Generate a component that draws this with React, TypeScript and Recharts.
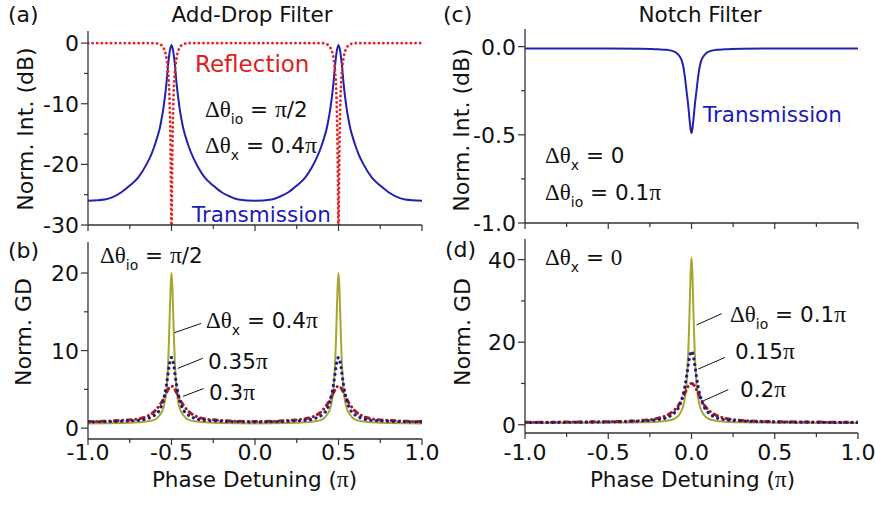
import React from 'react';
import { LineChart, Line, XAxis, YAxis, ReferenceLine } from 'recharts';

const FONT = '"DejaVu Sans", "Liberation Sans", Arial, sans-serif';
const SERIF = '"Liberation Serif", "DejaVu Serif", "Times New Roman", serif';
const AXIS = '#333333';
const INK = '#111111';

// ---------- shared x axis ----------
const xTicks = [-1, -0.75, -0.5, -0.25, 0, 0.25, 0.5, 0.75, 1];
const xMajor = [-1, -0.5, 0, 0.5, 1];
const xTickLabels = ['-1.0', '-0.5', '0.0', '0.5', '1.0'];

// ---------- panel (a) ----------
const aYTicks = [0, -5, -10, -15, -20, -25, -30];
const aYMajor = [0, -10, -20, -30];
const aYLabels = ['0', '-10', '-20', '-30'];
const aTransX = [-1, -0.9, -0.8, -0.75, -0.7, -0.65, -0.62, -0.6, -0.585, -0.57, -0.56, -0.55, -0.54, -0.53, -0.52, -0.51, -0.5, -0.49, -0.48, -0.47, -0.46, -0.45, -0.44, -0.43, -0.415, -0.4, -0.37, -0.34, -0.3, -0.25, -0.2, -0.15, -0.1, 0, 0.1, 0.15, 0.2, 0.25, 0.3, 0.34, 0.37, 0.4, 0.415, 0.43, 0.44, 0.45, 0.46, 0.47, 0.48, 0.49, 0.5, 0.51, 0.52, 0.53, 0.54, 0.55, 0.56, 0.57, 0.585, 0.6, 0.62, 0.65, 0.7, 0.75, 0.8, 0.9, 1];
const aTransY = [-26.0, -25.8, -24.6, -23.5, -22.2, -20.0, -18.3, -16.8, -15.5, -14.0, -12.6, -11.0, -9.0, -6.5, -3.5, -1.3, -0.3, -1.3, -3.5, -6.5, -9.0, -11.0, -12.6, -14.0, -15.5, -16.8, -18.9, -20.5, -22.2, -23.5, -24.6, -25.3, -25.8, -26.0, -25.8, -25.3, -24.6, -23.5, -22.2, -20.5, -18.9, -16.8, -15.5, -14.0, -12.6, -11.0, -9.0, -6.5, -3.5, -1.3, -0.3, -1.3, -3.5, -6.5, -9.0, -11.0, -12.6, -14.0, -15.5, -16.8, -18.3, -20.0, -22.2, -23.5, -24.6, -25.8, -26.0];
const aReflX = [-1, -0.7, -0.6, -0.58, -0.56, -0.55, -0.54, -0.53, -0.52, -0.515, -0.51, -0.506, -0.502, -0.5, -0.498, -0.494, -0.49, -0.485, -0.48, -0.47, -0.46, -0.45, -0.44, -0.42, -0.4, -0.3, 0, 0.3, 0.4, 0.42, 0.44, 0.45, 0.46, 0.47, 0.48, 0.485, 0.49, 0.494, 0.498, 0.5, 0.502, 0.506, 0.51, 0.515, 0.52, 0.53, 0.54, 0.55, 0.56, 0.58, 0.6, 0.7, 1];
const aReflY = [0, 0, 0, -0.1, -0.35, -0.7, -1.3, -2.5, -4.8, -7, -11, -17, -28, -40, -28, -17, -11, -7, -4.8, -2.5, -1.3, -0.7, -0.35, -0.1, 0, 0, 0, 0, 0, -0.1, -0.35, -0.7, -1.3, -2.5, -4.8, -7, -11, -17, -28, -40, -28, -17, -11, -7, -4.8, -2.5, -1.3, -0.7, -0.35, -0.1, 0, 0, 0];

// ---------- panel (b) ----------
const bYTicks = [0, 5, 10, 15, 20];
const bYMajor = [0, 10, 20];
const bYLabels = ['0', '10', '20'];
const bX = [-1, -0.8, -0.7, -0.65, -0.6, -0.57, -0.55, -0.54, -0.53, -0.52, -0.515, -0.51, -0.505, -0.5, -0.495, -0.49, -0.485, -0.48, -0.47, -0.46, -0.45, -0.43, -0.4, -0.35, -0.3, -0.2, 0, 0.2, 0.3, 0.35, 0.4, 0.43, 0.45, 0.46, 0.47, 0.48, 0.485, 0.49, 0.495, 0.5, 0.505, 0.51, 0.515, 0.52, 0.53, 0.54, 0.55, 0.57, 0.6, 0.65, 0.7, 0.8, 1];
const bOlive = [0.6, 0.65, 0.75, 0.85, 1.1, 1.7, 2.5, 3.4, 5.0, 8.5, 11.4, 15.0, 18.4, 20.0, 18.4, 15.0, 11.4, 8.5, 5.0, 3.4, 2.5, 1.7, 1.1, 0.85, 0.75, 0.65, 0.6, 0.65, 0.75, 0.85, 1.1, 1.7, 2.5, 3.4, 5.0, 8.5, 11.4, 15.0, 18.4, 20.0, 18.4, 15.0, 11.4, 8.5, 5.0, 3.4, 2.5, 1.7, 1.1, 0.85, 0.75, 0.65, 0.6];
const bBlue = [0.8, 0.9, 1.0, 1.2, 1.7, 2.4, 3.5, 4.4, 5.6, 7.1, 7.9, 8.5, 9.0, 9.1, 9.0, 8.5, 7.9, 7.1, 5.6, 4.4, 3.5, 2.4, 1.7, 1.2, 1.0, 0.9, 0.8, 0.9, 1.0, 1.2, 1.7, 2.4, 3.5, 4.4, 5.6, 7.1, 7.9, 8.5, 9.0, 9.1, 9.0, 8.5, 7.9, 7.1, 5.6, 4.4, 3.5, 2.4, 1.7, 1.2, 1.0, 0.9, 0.8];
const bRed = [0.85, 1.0, 1.2, 1.5, 2.2, 3.0, 3.7, 4.2, 4.6, 5.0, 5.2, 5.3, 5.4, 5.4, 5.4, 5.3, 5.2, 5.0, 4.6, 4.2, 3.7, 3.0, 2.2, 1.5, 1.2, 1.0, 0.85, 1.0, 1.2, 1.5, 2.2, 3.0, 3.7, 4.2, 4.6, 5.0, 5.2, 5.3, 5.4, 5.4, 5.4, 5.3, 5.2, 5.0, 4.6, 4.2, 3.7, 3.0, 2.2, 1.5, 1.2, 1.0, 0.85];
const bPointers = [
  [{ x: -0.483, y: 12.3 }, { x: -0.323, y: 13.5 }],
  [{ x: -0.463, y: 7.7 }, { x: -0.313, y: 9.0 }],
  [{ x: -0.431, y: 4.1 }, { x: -0.308, y: 5.1 }],
];

// ---------- panel (c) ----------
const cYTicks = [0, -0.25, -0.5, -0.75, -1];
const cYMajor = [0, -0.5, -1];
const cYLabels = ['0.0', '-0.5', '-1.0'];
const cdX = [-1, -0.5, -0.3, -0.2, -0.15, -0.1, -0.08, -0.06, -0.05, -0.04, -0.03, -0.02, -0.015, -0.01, -0.005, 0, 0.005, 0.01, 0.015, 0.02, 0.03, 0.04, 0.05, 0.06, 0.08, 0.1, 0.15, 0.2, 0.3, 0.5, 1];
const cTrans = [-0.01, -0.01, -0.012, -0.015, -0.018, -0.03, -0.045, -0.075, -0.11, -0.17, -0.25, -0.33, -0.38, -0.43, -0.47, -0.49, -0.47, -0.43, -0.38, -0.33, -0.25, -0.17, -0.11, -0.075, -0.045, -0.03, -0.018, -0.015, -0.012, -0.01, -0.01];

// ---------- panel (d) ----------
const dYTicks = [0, 10, 20, 30, 40];
const dYMajor = [0, 20, 40];
const dYLabels = ['0', '20', '40'];
const dOlive = [0.45, 0.5, 0.6, 0.75, 0.95, 1.5, 2.1, 3.4, 4.5, 6.4, 10.0, 17.0, 22.7, 30.0, 37.2, 40.5, 37.2, 30.0, 22.7, 17.0, 10.0, 6.4, 4.5, 3.4, 2.1, 1.5, 0.95, 0.75, 0.6, 0.5, 0.45];
const dBlue = [0.55, 0.7, 0.9, 1.25, 1.7, 3.0, 4.0, 5.9, 7.3, 9.2, 11.6, 14.4, 15.7, 16.8, 17.5, 17.8, 17.5, 16.8, 15.7, 14.4, 11.6, 9.2, 7.3, 5.9, 4.0, 3.0, 1.7, 1.25, 0.9, 0.7, 0.55];
const dRed = [0.6, 0.75, 1.05, 1.6, 2.25, 3.65, 4.6, 6.0, 6.8, 7.7, 8.5, 9.3, 9.6, 9.8, 9.95, 10.0, 9.95, 9.8, 9.6, 9.3, 8.5, 7.7, 6.8, 6.0, 4.6, 3.65, 2.25, 1.6, 1.05, 0.75, 0.6];
const dPointers = [
  [{ x: 0.031, y: 24.2 }, { x: 0.181, y: 26.9 }],
  [{ x: 0.041, y: 13.5 }, { x: 0.201, y: 16.3 }],
  [{ x: 0.071, y: 5.8 }, { x: 0.221, y: 8.5 }],
];

const pts = (xs: number[], ys: number[]) => xs.map((x, i) => ({ x, y: ys[i] }));

const C_BLUE = '#2222b0';
const C_RED = '#e02828';
const C_OLIVE = '#a6a630';
const C_NAVY = '#1c1c8e';
const C_DRED = '#a41c1c';

const makeYTick = (majors: number[], labels: string[]) => (props: any) => {
  const { x, y, payload } = props;
  const idx = majors.findIndex((m) => Math.abs(m - payload.value) < 1e-9);
  const len = idx >= 0 ? 7 : 4;
  return (
    <g>
      <line x1={x} x2={x - len} y1={y} y2={y} stroke={AXIS} strokeWidth={1.2} />
      {idx >= 0 && (
        <text x={x - 9} y={y} dy={8} textAnchor="end" fontFamily={FONT} fontSize={22} fill={INK}>
          {labels[idx]}
        </text>
      )}
    </g>
  );
};

const makeXTick = (showLabels: boolean, labelOffset: number) => (props: any) => {
  const { x, y, payload } = props;
  const idx = xMajor.findIndex((m) => Math.abs(m - payload.value) < 1e-9);
  const len = idx >= 0 ? 6 : 4;
  return (
    <g>
      <line x1={x} x2={x} y1={y} y2={y + len} stroke={AXIS} strokeWidth={1.2} />
      {showLabels && idx >= 0 && (
        <text x={x} y={y + labelOffset} textAnchor="middle" fontFamily={FONT} fontSize={22} fill={INK}>
          {xTickLabels[idx]}
        </text>
      )}
    </g>
  );
};

type PanelProps = {
  left: number; top: number; width: number; height: number;
  mTop: number; mRight: number; yWidth: number; xHeight: number;
  yDomain: [number, number]; yTicks: number[]; yMajor: number[]; yLabels: string[];
  xLabels: boolean; xLabelOffset?: number; children: React.ReactNode;
};

function Panel(p: PanelProps) {
  return (
    <div style={{ position: 'absolute', left: p.left, top: p.top, width: p.width, height: p.height }}>
      <LineChart width={p.width} height={p.height} margin={{ top: p.mTop, right: p.mRight, bottom: 0, left: 0 }}>
        <XAxis
          dataKey="x" type="number" domain={[-1, 1]} allowDataOverflow ticks={xTicks} interval={0}
          height={p.xHeight} tickSize={0} tickMargin={0} tickLine={false}
          axisLine={{ stroke: AXIS, strokeWidth: 1.3 }} tick={makeXTick(p.xLabels, p.xLabelOffset ?? 21)}
        />
        <XAxis xAxisId="top" orientation="top" type="number" domain={[-1, 1]} height={0}
          tick={false} tickLine={false} axisLine={{ stroke: AXIS, strokeWidth: 1.3 }} />
        <YAxis
          type="number" domain={p.yDomain} allowDataOverflow ticks={p.yTicks} interval={0}
          width={p.yWidth} tickSize={0} tickMargin={0} tickLine={false}
          axisLine={{ stroke: AXIS, strokeWidth: 1.3 }} tick={makeYTick(p.yMajor, p.yLabels)}
        />
        <YAxis yAxisId="right" orientation="right" type="number" domain={[0, 1]} width={0}
          tick={false} tickLine={false} axisLine={{ stroke: AXIS, strokeWidth: 1.3 }} />
        {p.children}
      </LineChart>
    </div>
  );
}

const sym = (s: string, size: number) => {
  const parts = s.split(/(π)/);
  return parts.map((t, i) =>
    t === 'π' ? (
      <tspan key={i} fontFamily={SERIF} fontSize={size + 2}>π</tspan>
    ) : (
      <tspan key={i}>{t}</tspan>
    )
  );
};

function Delta({ x, y, sub, value, serifValue }: { x: number; y: number; sub: string; value: string; serifValue?: boolean }) {
  return (
    <text x={x} y={y} fontFamily={FONT} fontSize={21.5} fill={INK} style={{ whiteSpace: 'pre' }}>
      <tspan fontFamily={SERIF} fontSize={23}>Δθ</tspan>
      <tspan fontSize={14} dy={7}>{sub}</tspan>
      <tspan dy={-7}>{' = '}</tspan>
      {serifValue ? <tspan fontFamily={SERIF} fontSize={23}>{value}</tspan> : sym(value, 21.5)}
    </text>
  );
}

function Plain({ x, y, text, size = 21.5, color = INK, anchor = 'start' }: { x: number; y: number; text: string; size?: number; color?: string; anchor?: string }) {
  return (
    <text x={x} y={y} fontFamily={FONT} fontSize={size} fill={color} textAnchor={anchor as any} style={{ whiteSpace: 'pre' }}>
      {sym(text, size)}
    </text>
  );
}

function YTitle({ x, y, text }: { x: number; y: number; text: string }) {
  return (
    <text x={x} y={y} transform={`rotate(-90, ${x}, ${y})`} textAnchor="middle" fontFamily={FONT} fontSize={22} fill={INK}>
      {text}
    </text>
  );
}

const solid = (color: string, data: any[], key: string) => (
  <Line key={key} data={data} dataKey="y" type="monotone" stroke={color} strokeWidth={2} dot={false} activeDot={false} isAnimationActive={false} />
);

export default function App() {
  return (
    <div style={{ position: 'absolute', left: 0, top: 0, width: 875, height: 507, background: '#ffffff', overflow: 'hidden' }}>
      <Panel left={0} top={0} width={440} height={245} mTop={31} mRight={18} yWidth={88} xHeight={20}
        yDomain={[-30, 2]} yTicks={aYTicks} yMajor={aYMajor} yLabels={aYLabels} xLabels={false}>
        {solid(C_BLUE, pts(aTransX, aTransY), 'at')}
        <Line data={pts(aReflX, aReflY)} dataKey="y" type="monotone" stroke={C_RED} strokeWidth={2.8}
          strokeDasharray="0.1 4.5" strokeLinecap="round" dot={false} activeDot={false} isAnimationActive={false} />
      </Panel>

      <Panel left={440} top={0} width={435} height={245} mTop={29} mRight={17} yWidth={85} xHeight={22}
        yDomain={[-1, 0.1]} yTicks={cYTicks} yMajor={cYMajor} yLabels={cYLabels} xLabels={false}>
        {solid(C_BLUE, pts(cdX, cTrans), 'ct')}
      </Panel>

      <Panel left={0} top={230} width={440} height={277} mTop={12} mRight={18} yWidth={88} xHeight={68}
        yDomain={[-1.4, 24]} yTicks={bYTicks} yMajor={bYMajor} yLabels={bYLabels} xLabels={true} xLabelOffset={21}>
        {solid(C_OLIVE, pts(bX, bOlive), 'bo')}
        <Line data={pts(bX, bRed)} dataKey="y" type="monotone" stroke={C_DRED} strokeWidth={3}
          strokeDasharray="4 4.5 0.1 4.5" strokeLinecap="round" dot={false} activeDot={false} isAnimationActive={false} />
        <Line data={pts(bX, bBlue)} dataKey="y" type="monotone" stroke={C_NAVY} strokeWidth={3.2}
          strokeDasharray="0.1 5.5" strokeLinecap="round" dot={false} activeDot={false} isAnimationActive={false} />
        {bPointers.map((seg, i) => (
          <ReferenceLine key={i} segment={seg} stroke={INK} strokeWidth={1} ifOverflow="visible" />
        ))}
      </Panel>

      <Panel left={440} top={230} width={435} height={277} mTop={9} mRight={17} yWidth={85} xHeight={74}
        yDomain={[-2, 45]} yTicks={dYTicks} yMajor={dYMajor} yLabels={dYLabels} xLabels={true} xLabelOffset={27}>
        {solid(C_OLIVE, pts(cdX, dOlive), 'do')}
        <Line data={pts(cdX, dRed)} dataKey="y" type="monotone" stroke={C_DRED} strokeWidth={3}
          strokeDasharray="4 4.5 0.1 4.5" strokeLinecap="round" dot={false} activeDot={false} isAnimationActive={false} />
        <Line data={pts(cdX, dBlue)} dataKey="y" type="monotone" stroke={C_NAVY} strokeWidth={3.2}
          strokeDasharray="0.1 5.5" strokeLinecap="round" dot={false} activeDot={false} isAnimationActive={false} />
        {dPointers.map((seg, i) => (
          <ReferenceLine key={i} segment={seg} stroke={INK} strokeWidth={1} ifOverflow="visible" />
        ))}
      </Panel>

      <svg width={875} height={507} style={{ position: 'absolute', left: 0, top: 0, pointerEvents: 'none' }}>
        {/* panel labels and titles */}
        <Plain x={8} y={22} text="(a)" size={22} />
        <Plain x={252} y={22} text="Add-Drop Filter" anchor="middle" />
        <Plain x={443} y={22} text="(c)" size={22} />
        <Plain x={700} y={22} text="Notch Filter" anchor="middle" />
        <Plain x={8} y={258} text="(b)" size={22} />
        <Plain x={445} y={257} text="(d)" size={22} />

        {/* axis titles */}
        <YTitle x={33} y={129} text="Norm. Int. (dB)" />
        <YTitle x={31} y={332} text="Norm. GD" />
        <YTitle x={469} y={130} text="Norm. Int. (dB)" />
        <YTitle x={470} y={332} text="Norm. GD" />
        <Plain x={254.5} y={487} text="Phase Detuning (π)" anchor="middle" />
        <Plain x={692.5} y={487} text="Phase Detuning (π)" anchor="middle" />

        {/* panel (a) annotations */}
        <Plain x={195} y={72} text="Reflection" size={23} color="#dd2020" />
        <Delta x={205} y={117} sub="io" value="π/2" />
        <Delta x={205} y={153} sub="x" value="0.4π" />
        <Plain x={192} y={222} text="Transmission" color="#1a1ab8" />

        {/* panel (b) annotations */}
        <Delta x={100} y={263} sub="io" value="π/2" />
        <Delta x={206} y={328} sub="x" value="0.4π" />
        <Plain x={208} y={369} text="0.35π" />
        <Plain x={209} y={400} text="0.3π" />

        {/* panel (c) annotations */}
        <Plain x={703} y={122} text="Transmission" color="#1a1ab8" />
        <Delta x={545} y={163} sub="x" value="0" />
        <Delta x={545} y={200} sub="io" value="0.1π" />

        {/* panel (d) annotations */}
        <Delta x={545} y={265} sub="x" value="0" serifValue />
        <Delta x={730} y={322} sub="io" value="0.1π" />
        <Plain x={735} y={359} text="0.15π" />
        <Plain x={740} y={397} text="0.2π" />
      </svg>
    </div>
  );
}
